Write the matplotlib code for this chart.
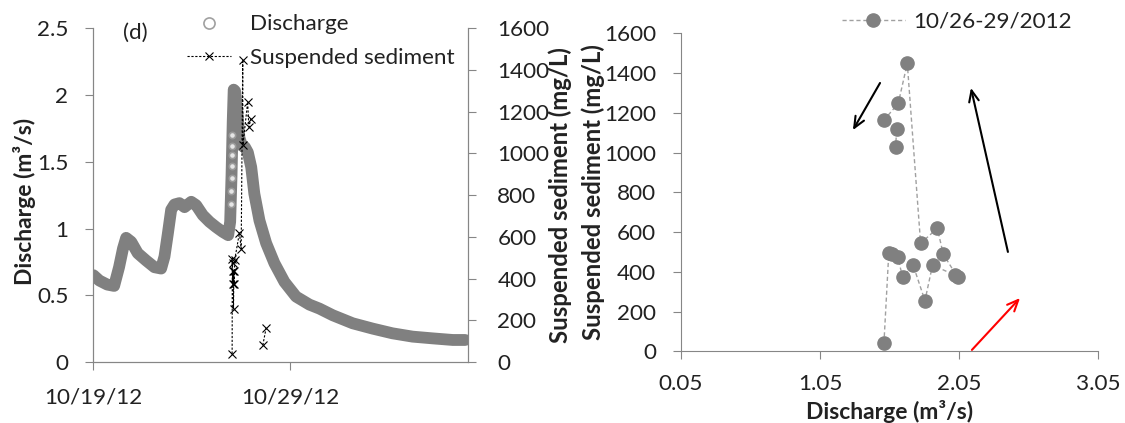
import numpy as np
import matplotlib
matplotlib.use("Agg")
import matplotlib.pyplot as plt
from matplotlib.lines import Line2D

plt.rcParams["font.family"] = ["Lato", "DejaVu Sans"]

# ---- data: discharge time series (days since 10/19/12) ----
q_days = [0, 0.3, 0.7, 1.05, 1.3, 1.5, 1.66, 1.92, 2.25, 2.68, 3.1, 3.44, 3.61,
          3.78, 3.95, 4.12, 4.37, 4.63, 4.97, 5.22, 5.56, 5.9, 6.24, 6.57, 6.85,
          6.95, 7.02, 7.08, 7.13, 7.2, 7.3, 7.42, 7.55, 7.7, 7.85, 8.02, 8.18,
          8.44, 8.78, 9.2, 9.71, 10.3, 10.98, 11.49, 12.17, 13.18, 14.2, 15.2,
          16.23, 17.25, 18.27, 18.9]
q_vals = [0.65, 0.61, 0.58, 0.57, 0.71, 0.85, 0.93, 0.90, 0.815, 0.76, 0.71,
          0.70, 0.79, 0.96, 1.14, 1.18, 1.19, 1.16, 1.20, 1.175, 1.10, 1.05,
          1.01, 0.975, 0.95, 1.05, 1.4, 1.8, 2.04, 2.03, 1.9, 1.68, 1.62, 1.61,
          1.57, 1.46, 1.26, 1.06, 0.89, 0.74, 0.60, 0.49, 0.43, 0.40, 0.35,
          0.29, 0.25, 0.215, 0.19, 0.177, 0.165, 0.165]
# sparse open circles visible on the rising limb
rise_days = [7.0, 7.01, 7.02, 7.03, 7.04, 7.05, 7.06]
rise_vals = [1.18, 1.28, 1.38, 1.47, 1.55, 1.62, 1.70]

# ---- data: suspended sediment time series ----
ss_days = [7.05, 7.06, 7.07, 7.09, 7.10, 7.12, 7.14, 7.16, 7.18, 7.42, 7.51,
           7.59, 7.60, 7.84, 7.90, 8.01, np.nan, 8.61, 8.78]
ss_vals = [40, 496, 476, 372, 434, 255, 434, 375, 489, 619, 543, 1449, 1040,
           1247, 1127, 1167, np.nan, 81, 163]

date_ticks = [0, 10]
date_labels = ["10/19/12", "10/29/12"]

# ---- data: hysteresis pairs 10/26-29/2012 ----
hyst_q = [1.51, 1.545, 1.565, 1.61, 1.645, 1.72, 1.805, 1.86, 2.02, 2.04,
          1.937, 1.894, 1.774, 1.678, 1.613, 1.51, 1.602, 1.594]
hyst_ss = [40, 495, 490, 472, 372, 434, 255, 434, 383, 372, 489, 619, 543,
           1449, 1247, 1163, 1118, 1029]

# arrows (start Q, start SS, end Q, end SS, colour)
arrows = [(1.482, 1350, 1.287, 1113, "black"),
          (2.402, 500, 2.136, 1325, "black"),
          (2.143, 7, 2.489, 268, "red")]

SPINE = "#868686"
TXT = "#222222"
GREY = "#808080"
FS = 16.2
FQ = 16.5    # discharge axis titles
FSS = 17.2   # sediment axis titles

fig = plt.figure(figsize=(11.25, 4.23), dpi=100)

# ---------- left panel ----------
ax = fig.add_axes([0.0831, 0.1442, 0.333, 0.789])
ax.plot(q_days, q_vals, color=GREY, lw=8.5, solid_capstyle="round",
        solid_joinstyle="round", zorder=2)
ax.plot(rise_days, rise_vals, ls="none", marker="o", ms=4.5, mfc="#e6e6e6",
        mec="#9a9a9a", mew=1.2, zorder=3)
ax.set_xlim(0, 19.05)
ax.set_ylim(0, 2.5)
ax.set_yticks([0, 0.5, 1, 1.5, 2, 2.5])
ax.set_yticklabels(["0", "0.5", "1", "1.5", "2", "2.5"])
ax.set_xticks(date_ticks)
ax.set_xticklabels(date_labels)
ax.set_ylabel("Discharge (m³/s)", fontsize=FQ, fontweight="bold", color=TXT,
              va="center")
ax.yaxis.set_label_coords(-0.183, 0.48)
ax.text(0.078, 0.986, "(d)", transform=ax.transAxes, fontsize=FS, color=TXT,
        va="center", ha="left")

ax2 = ax.twinx()
ax2.plot(ss_days, ss_vals, color="black", lw=0.8, ls=(0, (2, 1.5)),
         marker="x", ms=6, mew=0.8, zorder=4)
ax2.set_ylim(0, 1600)
ax2.set_yticks(np.arange(0, 1601, 200))
ax2.set_ylabel("Suspended sediment (mg/L)", fontsize=FSS, fontweight="bold",
               color=TXT, rotation=90, va="center")
ax2.yaxis.set_label_coords(1.245, 0.5)

for a in (ax, ax2):
    a.spines["top"].set_visible(False)
    for s in ("left", "right", "bottom"):
        a.spines[s].set_color(SPINE)
    a.tick_params(colors=SPINE, labelcolor=TXT, labelsize=FS, length=6,
                  direction="out")
ax.tick_params(axis="y", pad=12)
ax.tick_params(axis="x", pad=12)
ax2.tick_params(axis="y", pad=15)

h1 = Line2D([], [], ls="none", marker="o", ms=8, mfc="none", mec="#a0a0a0",
            mew=1.2)
h2 = Line2D([], [], color="black", lw=0.8, ls=(0, (2, 1.5)), marker="x",
            ms=6, mew=0.8)
fig.legend([h1, h2], ["Discharge", "Suspended sediment"], loc="upper left",
           bbox_to_anchor=(0.166, 0.966), frameon=False, fontsize=FS,
           handlelength=1.95, handletextpad=0.85, labelspacing=0.62,
           borderpad=0, borderaxespad=0, labelcolor=TXT)

# ---------- right panel ----------
bx = fig.add_axes([0.6053, 0.1695, 0.3707, 0.7518])
bx.plot(hyst_q, hyst_ss, color="#a0a0a0", lw=1, ls=(0, (3, 2)), marker="o",
        ms=9.5, mfc=GREY, mec=GREY, label="10/26-29/2012")
for q0, s0, q1, s1, c in arrows:
    bx.annotate("", xy=(q1, s1), xytext=(q0, s0),
                arrowprops=dict(arrowstyle="->,head_length=0.8,head_width=0.35",
                                color=c, lw=1.5, shrinkA=0, shrinkB=0))
bx.set_xlim(0.05, 3.05)
bx.set_ylim(0, 1600)
bx.set_xticks([0.05, 1.05, 2.05, 3.05])
bx.set_xticklabels(["0.05", "1.05", "2.05", "3.05"])
bx.set_yticks(np.arange(0, 1601, 200))
bx.set_xlabel("Discharge (m³/s)", fontsize=FQ, fontweight="bold", color=TXT,
              va="center")
bx.set_ylabel("Suspended sediment (mg/L)", fontsize=FSS, fontweight="bold",
              color=TXT, va="center")
bx.yaxis.set_label_coords(-0.211, 0.5)
bx.xaxis.set_label_coords(0.5, -0.19)
for s in ("top", "right"):
    bx.spines[s].set_visible(False)
for s in ("left", "bottom"):
    bx.spines[s].set_color(SPINE)
bx.tick_params(colors=SPINE, labelcolor=TXT, labelsize=FS, length=6,
               direction="out")
bx.tick_params(axis="y", pad=12)
bx.tick_params(axis="x", pad=10)
bx.legend(loc="upper left", bbox_to_anchor=(0.748, 0.973),
          bbox_transform=fig.transFigure, frameon=False, fontsize=FS,
          handlelength=2.8, handletextpad=0.4, borderpad=0, borderaxespad=0,
          labelcolor=TXT)

fig.savefig("out.png", dpi=100)
plt.close(fig)
